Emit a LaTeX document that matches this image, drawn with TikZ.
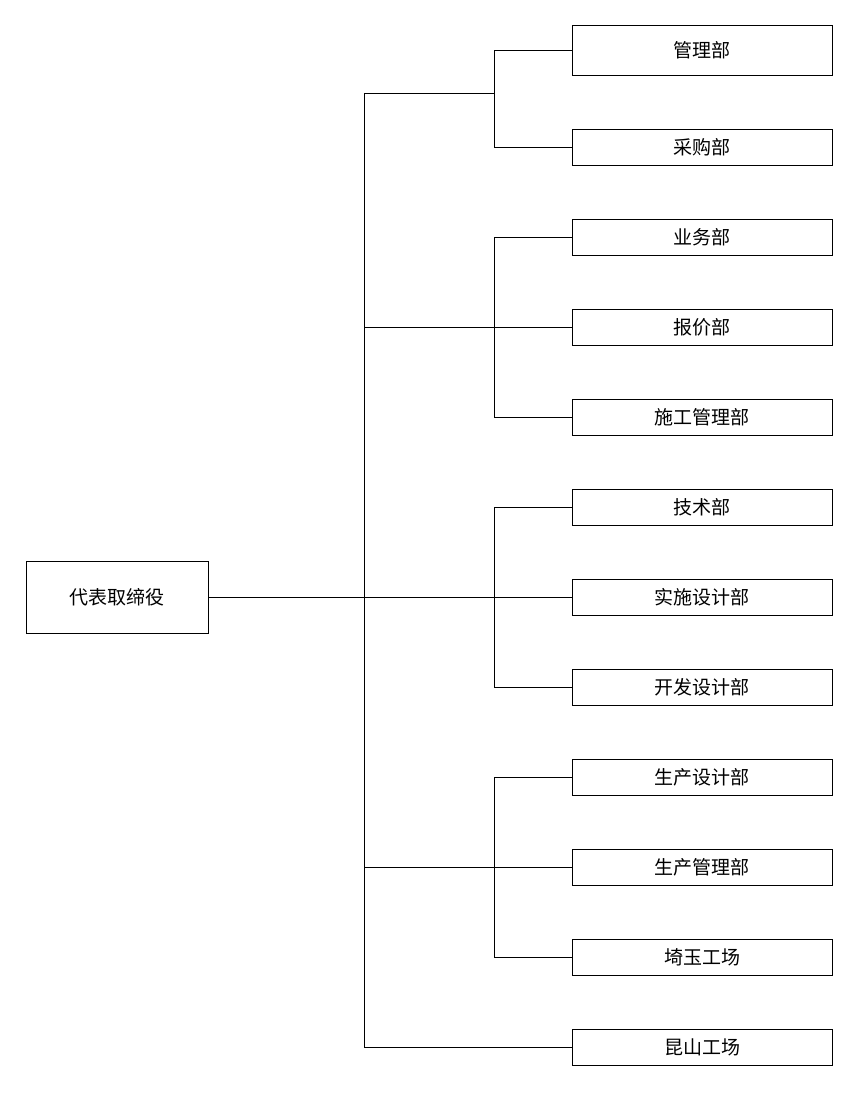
\documentclass[tikz,border=0pt]{standalone}
\usepackage{fontspec}
\setmainfont{Noto Sans CJK SC}
\begin{document}
\begin{tikzpicture}[x=1pt,y=-1pt,
  box/.style={draw,line width=0.8pt,minimum width=260pt,minimum height=36pt,inner sep=0pt,font=\fontsize{19}{19}\selectfont},
  ln/.style={line width=0.8pt}]
\useasboundingbox (0,0) rectangle (859,1102);
\node[draw,line width=0.8pt,minimum width=182pt,minimum height=72pt,inner sep=0pt,font=\fontsize{19}{19}\selectfont] (root) at (117,597) {代表取缔役};
\node[box,minimum height=50pt] (b1) at (702,50) {管理部};
\node[box] (b2) at (702,147) {采购部};
\node[box] (b3) at (702,237) {业务部};
\node[box] (b4) at (702,327) {报价部};
\node[box] (b5) at (702,417) {施工管理部};
\node[box] (b6) at (702,507) {技术部};
\node[box] (b7) at (702,597) {实施设计部};
\node[box] (b8) at (702,687) {开发设计部};
\node[box] (b9) at (702,777) {生产设计部};
\node[box] (b10) at (702,867) {生产管理部};
\node[box] (b11) at (702,957) {埼玉工场};
\node[box] (b12) at (702,1047) {昆山工场};
\coordinate (t1) at (364,93);
\coordinate (t2) at (364,1047);
\coordinate (g1) at (494,93);
\draw[ln] (t1) -- (t2);
\draw[ln] (root.east) -- (b7.west);
\draw[ln] (t1) -- (g1);
\draw[ln] (b1.west) -| (494,147) -- (b2.west);
\draw[ln] (364,327) -- (b4.west);
\draw[ln] (b3.west) -| (494,417) -- (b5.west);
\draw[ln] (b6.west) -| (494,687) -- (b8.west);
\draw[ln] (364,867) -- (b10.west);
\draw[ln] (b9.west) -| (494,957) -- (b11.west);
\draw[ln] (t2) -- (b12.west);
\end{tikzpicture}
\end{document}
